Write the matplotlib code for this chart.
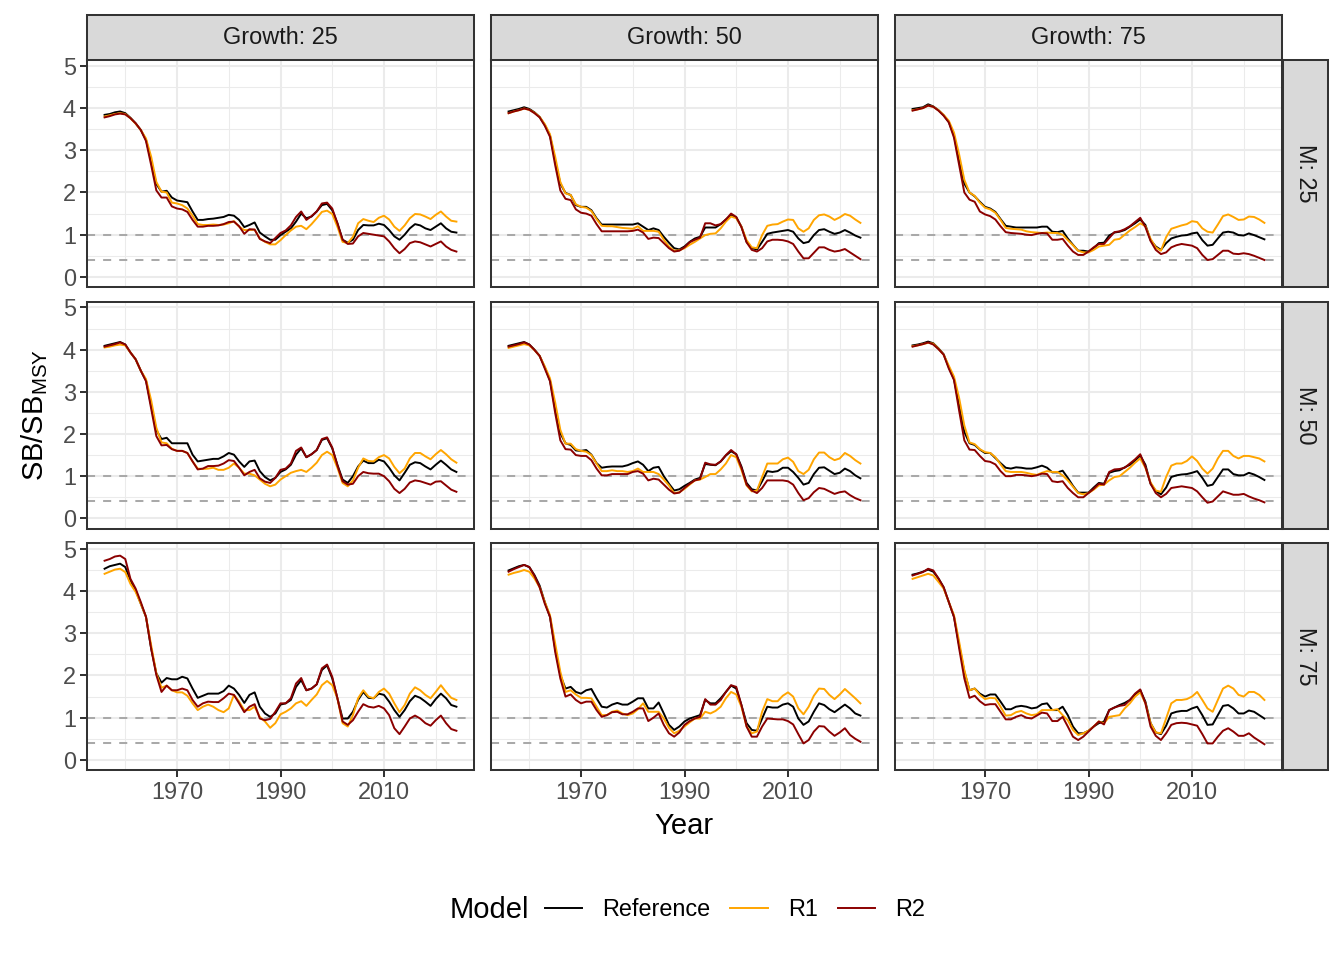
import numpy as np
import matplotlib
matplotlib.use('Agg')
import matplotlib.pyplot as plt
from matplotlib.ticker import MultipleLocator, FixedLocator

plt.rcParams['font.family'] = ['Liberation Sans', 'DejaVu Sans']
plt.rcParams['mathtext.fontset'] = 'custom'
plt.rcParams['mathtext.rm'] = 'Liberation Sans'
plt.rcParams['mathtext.it'] = 'Liberation Sans:italic'

years = list(range(1956, 2025))
growth_levels = [25, 50, 75]
m_levels = [25, 50, 75]
models = ['Reference', 'R1', 'R2']
model_colors = {'Reference': 'black', 'R1': 'orange', 'R2': '#8B0000'}
ref_points = [1, 0.4]

# ---- Growth 25 / M 25
ref_g25_m25 = [3.84, 3.86, 3.90, 3.92, 3.88, 3.77, 3.64, 3.48, 3.25, 2.75,
               2.20, 2.02, 2.04, 1.88, 1.81, 1.79, 1.77, 1.55, 1.35, 1.35,
               1.37, 1.38, 1.40, 1.42, 1.47, 1.45, 1.35, 1.18, 1.23, 1.29,
               1.05, 0.96, 0.88, 0.88, 0.99, 1.07, 1.15, 1.31, 1.50, 1.39,
               1.43, 1.55, 1.70, 1.73, 1.58, 1.27, 0.88, 0.81, 0.88, 1.11,
               1.23, 1.22, 1.22, 1.26, 1.23, 1.11, 0.96, 0.88, 1.00, 1.15,
               1.25, 1.22, 1.15, 1.11, 1.19, 1.27, 1.15, 1.07, 1.05]
r1_g25_m25 = [3.80, 3.83, 3.86, 3.88, 3.86, 3.76, 3.63, 3.48, 3.28, 2.85,
              2.25, 2.02, 2.00, 1.76, 1.74, 1.70, 1.62, 1.45, 1.25, 1.23,
              1.23, 1.24, 1.23, 1.24, 1.27, 1.32, 1.19, 1.11, 1.11, 1.12,
              0.91, 0.83, 0.77, 0.77, 0.87, 0.99, 1.10, 1.19, 1.21, 1.13,
              1.25, 1.39, 1.54, 1.57, 1.49, 1.19, 0.83, 0.80, 0.95, 1.27,
              1.37, 1.33, 1.30, 1.40, 1.45, 1.36, 1.19, 1.09, 1.22, 1.39,
              1.49, 1.48, 1.43, 1.37, 1.47, 1.55, 1.43, 1.33, 1.31]
r2_g25_m25 = [3.78, 3.81, 3.85, 3.87, 3.85, 3.76, 3.64, 3.48, 3.22, 2.65,
              2.05, 1.88, 1.88, 1.67, 1.62, 1.60, 1.54, 1.35, 1.19, 1.19,
              1.21, 1.21, 1.22, 1.25, 1.30, 1.31, 1.20, 1.02, 1.13, 1.12,
              0.90, 0.84, 0.80, 0.92, 1.04, 1.10, 1.22, 1.42, 1.55, 1.35,
              1.44, 1.55, 1.74, 1.76, 1.62, 1.27, 0.88, 0.78, 0.79, 0.96,
              1.04, 1.02, 1.00, 0.98, 0.96, 0.84, 0.68, 0.56, 0.66, 0.80,
              0.84, 0.82, 0.77, 0.72, 0.78, 0.84, 0.72, 0.64, 0.60]

# ---- Growth 50 / M 25
ref_g50_m25 = [3.92, 3.95, 3.98, 4.02, 3.98, 3.90, 3.79, 3.60, 3.35, 2.76,
               2.21, 1.99, 1.94, 1.70, 1.66, 1.66, 1.58, 1.39, 1.24, 1.24,
               1.24, 1.24, 1.24, 1.24, 1.24, 1.27, 1.19, 1.11, 1.15, 1.11,
               0.95, 0.81, 0.68, 0.65, 0.72, 0.83, 0.91, 0.95, 1.17, 1.17,
               1.17, 1.25, 1.36, 1.46, 1.41, 1.19, 0.83, 0.68, 0.65, 0.83,
               1.02, 1.05, 1.07, 1.09, 1.11, 1.07, 0.91, 0.80, 0.83, 0.99,
               1.11, 1.13, 1.07, 1.02, 1.05, 1.11, 1.05, 0.98, 0.93]
r1_g50_m25 = [3.88, 3.92, 3.95, 3.99, 3.96, 3.89, 3.79, 3.62, 3.38, 2.85,
              2.25, 1.98, 1.94, 1.72, 1.66, 1.64, 1.56, 1.37, 1.21, 1.20,
              1.20, 1.18, 1.16, 1.15, 1.14, 1.20, 1.09, 1.09, 1.09, 1.07,
              0.88, 0.72, 0.62, 0.63, 0.68, 0.76, 0.83, 0.91, 0.99, 1.02,
              1.03, 1.15, 1.31, 1.43, 1.39, 1.19, 0.87, 0.70, 0.68, 0.99,
              1.21, 1.24, 1.25, 1.31, 1.36, 1.35, 1.15, 1.07, 1.15, 1.35,
              1.46, 1.48, 1.43, 1.35, 1.41, 1.49, 1.45, 1.36, 1.28]
r2_g50_m25 = [3.88, 3.92, 3.95, 3.99, 3.96, 3.88, 3.78, 3.58, 3.32, 2.65,
              2.05, 1.85, 1.82, 1.60, 1.52, 1.50, 1.45, 1.25, 1.08, 1.08,
              1.08, 1.08, 1.08, 1.08, 1.09, 1.12, 1.05, 0.90, 0.93, 0.92,
              0.80, 0.68, 0.60, 0.62, 0.70, 0.82, 0.88, 0.93, 1.27, 1.27,
              1.22, 1.25, 1.36, 1.50, 1.42, 1.18, 0.82, 0.64, 0.60, 0.68,
              0.84, 0.88, 0.88, 0.87, 0.84, 0.78, 0.60, 0.44, 0.44, 0.57,
              0.70, 0.70, 0.64, 0.60, 0.62, 0.66, 0.58, 0.50, 0.42]

# ---- Growth 75 / M 25
ref_g75_m25 = [3.98, 4.00, 4.02, 4.09, 4.04, 3.95, 3.83, 3.67, 3.35, 2.76,
               2.21, 2.00, 1.91, 1.78, 1.66, 1.62, 1.54, 1.37, 1.21, 1.19,
               1.17, 1.17, 1.17, 1.17, 1.17, 1.19, 1.19, 1.07, 1.06, 1.09,
               0.91, 0.76, 0.62, 0.62, 0.60, 0.68, 0.80, 0.81, 0.98, 1.05,
               1.07, 1.11, 1.19, 1.27, 1.36, 1.23, 0.87, 0.72, 0.64, 0.80,
               0.91, 0.95, 0.98, 0.99, 1.03, 1.05, 0.87, 0.74, 0.76, 0.91,
               1.05, 1.07, 1.05, 0.99, 0.98, 1.03, 0.99, 0.94, 0.89]
r1_g75_m25 = [3.95, 3.97, 4.00, 4.06, 4.03, 3.95, 3.84, 3.70, 3.42, 2.90,
              2.30, 2.00, 1.92, 1.76, 1.64, 1.60, 1.52, 1.35, 1.16, 1.14,
              1.13, 1.12, 1.08, 1.06, 1.05, 1.04, 1.05, 1.04, 1.04, 1.00,
              0.87, 0.75, 0.62, 0.58, 0.58, 0.64, 0.72, 0.74, 0.76, 0.88,
              0.90, 1.00, 1.10, 1.18, 1.27, 1.20, 0.90, 0.70, 0.62, 0.94,
              1.14, 1.18, 1.22, 1.25, 1.32, 1.30, 1.15, 1.07, 1.05, 1.24,
              1.44, 1.48, 1.42, 1.35, 1.36, 1.43, 1.42, 1.36, 1.28]
r2_g75_m25 = [3.94, 3.97, 4.00, 4.06, 4.03, 3.94, 3.82, 3.66, 3.30, 2.65,
              2.00, 1.83, 1.78, 1.55, 1.48, 1.44, 1.36, 1.20, 1.06, 1.04,
              1.03, 1.02, 1.00, 0.99, 1.02, 1.04, 1.03, 0.88, 0.88, 0.90,
              0.74, 0.60, 0.52, 0.52, 0.60, 0.70, 0.78, 0.78, 0.92, 1.06,
              1.08, 1.13, 1.20, 1.30, 1.40, 1.18, 0.85, 0.64, 0.54, 0.58,
              0.70, 0.75, 0.78, 0.76, 0.74, 0.68, 0.52, 0.40, 0.42, 0.52,
              0.62, 0.62, 0.55, 0.54, 0.56, 0.54, 0.50, 0.45, 0.40]

# ---- Growth 25 / M 50
ref_g25_m50 = [4.09, 4.12, 4.15, 4.18, 4.12, 3.93, 3.77, 3.50, 3.27, 2.68,
               2.09, 1.88, 1.91, 1.78, 1.78, 1.78, 1.78, 1.51, 1.35, 1.37,
               1.39, 1.41, 1.41, 1.47, 1.55, 1.51, 1.35, 1.22, 1.35, 1.37,
               1.12, 0.98, 0.90, 0.96, 1.10, 1.16, 1.27, 1.51, 1.66, 1.45,
               1.52, 1.62, 1.86, 1.90, 1.66, 1.27, 0.92, 0.84, 1.00, 1.23,
               1.37, 1.31, 1.31, 1.39, 1.35, 1.20, 1.02, 0.90, 1.08, 1.27,
               1.33, 1.31, 1.23, 1.16, 1.27, 1.37, 1.27, 1.16, 1.10]
r1_g25_m50 = [4.05, 4.07, 4.10, 4.12, 4.10, 3.93, 3.77, 3.50, 3.30, 2.80,
              2.15, 1.80, 1.78, 1.65, 1.60, 1.60, 1.55, 1.35, 1.18, 1.17,
              1.18, 1.20, 1.15, 1.15, 1.20, 1.30, 1.20, 1.06, 1.06, 1.02,
              0.92, 0.82, 0.76, 0.80, 0.92, 1.00, 1.08, 1.12, 1.15, 1.10,
              1.20, 1.32, 1.50, 1.58, 1.50, 1.20, 0.84, 0.76, 0.90, 1.20,
              1.42, 1.36, 1.35, 1.45, 1.50, 1.42, 1.22, 1.07, 1.18, 1.42,
              1.55, 1.55, 1.47, 1.40, 1.52, 1.62, 1.52, 1.40, 1.32]
r2_g25_m50 = [4.07, 4.10, 4.13, 4.17, 4.12, 3.93, 3.77, 3.50, 3.25, 2.60,
              1.95, 1.73, 1.74, 1.64, 1.60, 1.60, 1.55, 1.35, 1.16, 1.18,
              1.24, 1.24, 1.25, 1.30, 1.38, 1.36, 1.20, 1.02, 1.10, 1.15,
              0.95, 0.87, 0.84, 0.96, 1.15, 1.18, 1.30, 1.60, 1.68, 1.45,
              1.52, 1.62, 1.88, 1.92, 1.68, 1.25, 0.88, 0.80, 0.82, 1.00,
              1.10, 1.07, 1.06, 1.06, 1.00, 0.88, 0.70, 0.60, 0.70, 0.85,
              0.90, 0.88, 0.84, 0.80, 0.87, 0.88, 0.78, 0.68, 0.63]

# ---- Growth 50 / M 50
ref_g50_m50 = [4.09, 4.12, 4.15, 4.18, 4.12, 4.00, 3.85, 3.58, 3.27, 2.60,
               2.02, 1.78, 1.74, 1.61, 1.60, 1.62, 1.51, 1.31, 1.20, 1.22,
               1.23, 1.23, 1.23, 1.26, 1.31, 1.35, 1.27, 1.12, 1.20, 1.22,
               1.00, 0.82, 0.66, 0.69, 0.77, 0.84, 0.92, 0.96, 1.29, 1.27,
               1.26, 1.35, 1.49, 1.59, 1.52, 1.23, 0.84, 0.69, 0.66, 0.88,
               1.12, 1.10, 1.12, 1.20, 1.20, 1.10, 0.96, 0.80, 0.84, 1.05,
               1.20, 1.21, 1.13, 1.05, 1.08, 1.18, 1.12, 1.02, 0.95]
r1_g50_m50 = [4.04, 4.07, 4.10, 4.13, 4.10, 3.99, 3.85, 3.60, 3.32, 2.75,
              2.10, 1.77, 1.77, 1.64, 1.60, 1.58, 1.50, 1.30, 1.12, 1.12,
              1.14, 1.12, 1.12, 1.10, 1.12, 1.18, 1.10, 1.10, 1.10, 1.05,
              0.92, 0.78, 0.60, 0.62, 0.70, 0.80, 0.90, 0.92, 0.98, 1.05,
              1.05, 1.16, 1.30, 1.50, 1.45, 1.15, 0.78, 0.64, 0.66, 0.98,
              1.30, 1.30, 1.30, 1.40, 1.44, 1.34, 1.12, 1.05, 1.15, 1.40,
              1.56, 1.56, 1.45, 1.38, 1.42, 1.55, 1.48, 1.38, 1.30]
r2_g50_m50 = [4.07, 4.10, 4.13, 4.17, 4.12, 3.99, 3.85, 3.55, 3.25, 2.50,
              1.85, 1.64, 1.63, 1.50, 1.48, 1.48, 1.38, 1.18, 1.02, 1.02,
              1.05, 1.05, 1.05, 1.05, 1.10, 1.12, 1.06, 0.90, 0.94, 0.92,
              0.80, 0.68, 0.59, 0.61, 0.72, 0.82, 0.90, 0.93, 1.32, 1.28,
              1.27, 1.35, 1.50, 1.62, 1.52, 1.20, 0.80, 0.66, 0.60, 0.72,
              0.90, 0.90, 0.90, 0.90, 0.88, 0.80, 0.60, 0.43, 0.48, 0.62,
              0.72, 0.70, 0.64, 0.58, 0.62, 0.64, 0.55, 0.48, 0.43]

# ---- Growth 75 / M 50
ref_g75_m50 = [4.10, 4.12, 4.15, 4.19, 4.15, 4.03, 3.89, 3.58, 3.30, 2.68,
               2.05, 1.78, 1.74, 1.63, 1.55, 1.55, 1.43, 1.31, 1.20, 1.18,
               1.21, 1.20, 1.18, 1.18, 1.21, 1.25, 1.20, 1.09, 1.09, 1.13,
               0.96, 0.77, 0.61, 0.61, 0.61, 0.73, 0.84, 0.82, 1.08, 1.12,
               1.14, 1.21, 1.27, 1.37, 1.49, 1.27, 0.82, 0.65, 0.57, 0.73,
               0.98, 1.02, 1.04, 1.05, 1.08, 1.12, 0.96, 0.77, 0.80, 0.98,
               1.16, 1.16, 1.05, 1.02, 1.02, 1.08, 1.04, 0.98, 0.91]
r1_g75_m50 = [4.08, 4.10, 4.13, 4.16, 4.14, 4.02, 3.88, 3.62, 3.36, 2.85,
              2.20, 1.80, 1.76, 1.64, 1.57, 1.55, 1.45, 1.28, 1.12, 1.10,
              1.10, 1.10, 1.08, 1.05, 1.03, 1.08, 1.12, 1.10, 1.10, 1.02,
              0.90, 0.75, 0.60, 0.57, 0.60, 0.68, 0.78, 0.80, 0.90, 0.98,
              1.00, 1.10, 1.20, 1.32, 1.42, 1.20, 0.85, 0.66, 0.63, 0.98,
              1.25, 1.30, 1.30, 1.36, 1.47, 1.36, 1.18, 1.06, 1.18, 1.42,
              1.60, 1.60, 1.48, 1.42, 1.48, 1.48, 1.45, 1.42, 1.35]
r2_g75_m50 = [4.07, 4.10, 4.13, 4.17, 4.12, 4.01, 3.88, 3.55, 3.28, 2.55,
              1.85, 1.63, 1.62, 1.48, 1.36, 1.34, 1.28, 1.12, 1.00, 1.00,
              1.03, 1.03, 1.02, 1.00, 1.02, 1.06, 1.05, 0.88, 0.86, 0.88,
              0.72, 0.60, 0.50, 0.50, 0.60, 0.70, 0.82, 0.80, 1.10, 1.16,
              1.17, 1.20, 1.30, 1.40, 1.52, 1.22, 0.82, 0.60, 0.50, 0.58,
              0.72, 0.74, 0.76, 0.74, 0.72, 0.64, 0.50, 0.37, 0.40, 0.52,
              0.64, 0.60, 0.56, 0.56, 0.58, 0.52, 0.47, 0.43, 0.38]

# ---- Growth 25 / M 75
ref_g25_m75 = [4.53, 4.59, 4.62, 4.65, 4.57, 4.25, 4.02, 3.70, 3.39, 2.64,
               2.05, 1.83, 1.94, 1.91, 1.91, 1.97, 1.93, 1.69, 1.47, 1.52,
               1.57, 1.57, 1.57, 1.63, 1.76, 1.69, 1.54, 1.35, 1.54, 1.60,
               1.26, 1.10, 1.02, 1.10, 1.31, 1.34, 1.42, 1.73, 1.89, 1.65,
               1.69, 1.79, 2.13, 2.24, 1.93, 1.46, 0.98, 0.98, 1.14, 1.42,
               1.61, 1.47, 1.46, 1.57, 1.54, 1.38, 1.18, 1.02, 1.18, 1.39,
               1.52, 1.47, 1.38, 1.28, 1.44, 1.57, 1.46, 1.30, 1.26]
r1_g25_m75 = [4.41, 4.46, 4.51, 4.53, 4.45, 4.17, 3.98, 3.70, 3.39, 2.72,
              2.05, 1.71, 1.76, 1.65, 1.60, 1.60, 1.52, 1.34, 1.18, 1.26,
              1.31, 1.26, 1.18, 1.13, 1.22, 1.54, 1.38, 1.18, 1.18, 1.26,
              1.02, 0.91, 0.76, 0.87, 1.08, 1.14, 1.22, 1.34, 1.39, 1.28,
              1.42, 1.55, 1.77, 1.87, 1.77, 1.46, 0.87, 0.79, 1.06, 1.46,
              1.65, 1.50, 1.46, 1.61, 1.69, 1.57, 1.34, 1.13, 1.30, 1.57,
              1.72, 1.65, 1.54, 1.46, 1.61, 1.77, 1.61, 1.47, 1.42]
r2_g25_m75 = [4.72, 4.76, 4.82, 4.84, 4.76, 4.29, 4.06, 3.74, 3.39, 2.64,
              2.01, 1.61, 1.76, 1.65, 1.65, 1.69, 1.65, 1.42, 1.26, 1.34,
              1.38, 1.37, 1.37, 1.46, 1.57, 1.54, 1.34, 1.13, 1.26, 1.32,
              0.98, 0.94, 0.97, 1.14, 1.34, 1.34, 1.46, 1.81, 1.94, 1.65,
              1.69, 1.79, 2.17, 2.26, 1.97, 1.46, 0.91, 0.83, 0.94, 1.14,
              1.32, 1.26, 1.24, 1.28, 1.22, 1.06, 0.75, 0.61, 0.79, 0.98,
              1.05, 0.98, 0.87, 0.81, 0.94, 1.05, 0.87, 0.73, 0.69]

# ---- Growth 50 / M 75
ref_g50_m75 = [4.49, 4.54, 4.59, 4.62, 4.57, 4.38, 4.13, 3.74, 3.39, 2.64,
               2.01, 1.69, 1.73, 1.61, 1.57, 1.65, 1.68, 1.46, 1.26, 1.24,
               1.31, 1.35, 1.31, 1.31, 1.38, 1.46, 1.46, 1.22, 1.22, 1.36,
               1.10, 0.83, 0.71, 0.79, 0.91, 0.98, 1.02, 1.06, 1.42, 1.34,
               1.34, 1.46, 1.61, 1.76, 1.69, 1.30, 0.87, 0.71, 0.69, 0.98,
               1.26, 1.24, 1.24, 1.31, 1.34, 1.26, 0.98, 0.83, 0.91, 1.14,
               1.34, 1.30, 1.20, 1.13, 1.22, 1.31, 1.22, 1.10, 1.05]
r1_g50_m75 = [4.39, 4.43, 4.46, 4.50, 4.46, 4.30, 4.09, 3.74, 3.43, 2.76,
              2.09, 1.61, 1.65, 1.55, 1.47, 1.47, 1.46, 1.26, 1.06, 1.06,
              1.14, 1.17, 1.10, 1.06, 1.10, 1.20, 1.34, 1.14, 1.14, 1.14,
              0.98, 0.76, 0.63, 0.69, 0.79, 0.89, 0.98, 0.98, 1.14, 1.10,
              1.16, 1.26, 1.46, 1.61, 1.55, 1.26, 0.79, 0.63, 0.67, 1.14,
              1.44, 1.39, 1.39, 1.52, 1.60, 1.50, 1.22, 1.08, 1.26, 1.52,
              1.69, 1.68, 1.54, 1.44, 1.55, 1.68, 1.57, 1.46, 1.34]
r2_g50_m75 = [4.46, 4.52, 4.57, 4.62, 4.57, 4.36, 4.09, 3.70, 3.39, 2.56,
              1.93, 1.50, 1.55, 1.42, 1.34, 1.38, 1.38, 1.18, 1.02, 1.06,
              1.13, 1.14, 1.08, 1.08, 1.14, 1.22, 1.22, 0.92, 1.00, 1.10,
              0.83, 0.63, 0.55, 0.65, 0.83, 0.92, 0.98, 1.02, 1.44, 1.31,
              1.31, 1.42, 1.61, 1.77, 1.73, 1.30, 0.79, 0.55, 0.55, 0.79,
              0.98, 0.97, 0.96, 0.96, 0.92, 0.84, 0.61, 0.39, 0.47, 0.67,
              0.80, 0.79, 0.67, 0.57, 0.65, 0.75, 0.59, 0.50, 0.43]

# ---- Growth 75 / M 75
ref_g75_m75 = [4.39, 4.42, 4.46, 4.51, 4.46, 4.30, 4.09, 3.74, 3.39, 2.72,
               2.09, 1.65, 1.69, 1.57, 1.50, 1.55, 1.55, 1.38, 1.20, 1.20,
               1.26, 1.28, 1.26, 1.22, 1.24, 1.32, 1.34, 1.18, 1.18, 1.26,
               1.06, 0.79, 0.63, 0.63, 0.69, 0.79, 0.87, 0.91, 1.18, 1.24,
               1.30, 1.35, 1.42, 1.55, 1.65, 1.38, 0.87, 0.65, 0.61, 0.81,
               1.10, 1.14, 1.16, 1.16, 1.22, 1.26, 1.06, 0.83, 0.84, 1.06,
               1.28, 1.30, 1.22, 1.10, 1.10, 1.17, 1.14, 1.06, 0.98]
r1_g75_m75 = [4.29, 4.33, 4.37, 4.41, 4.37, 4.22, 4.06, 3.74, 3.43, 2.80,
              2.13, 1.65, 1.69, 1.54, 1.44, 1.47, 1.46, 1.26, 1.05, 1.06,
              1.13, 1.16, 1.10, 1.06, 1.08, 1.18, 1.18, 1.18, 1.20, 1.06,
              0.94, 0.71, 0.59, 0.63, 0.69, 0.79, 0.91, 0.87, 1.02, 1.04,
              1.06, 1.22, 1.34, 1.50, 1.60, 1.34, 0.87, 0.65, 0.63, 0.98,
              1.34, 1.42, 1.42, 1.44, 1.50, 1.61, 1.42, 1.22, 1.14, 1.42,
              1.69, 1.76, 1.69, 1.54, 1.50, 1.61, 1.61, 1.54, 1.42]
r2_g75_m75 = [4.37, 4.41, 4.45, 4.53, 4.49, 4.30, 4.09, 3.74, 3.39, 2.64,
              1.93, 1.47, 1.52, 1.39, 1.30, 1.32, 1.32, 1.14, 0.96, 0.96,
              1.02, 1.06, 1.00, 0.98, 1.05, 1.12, 1.10, 0.92, 0.92, 1.02,
              0.79, 0.55, 0.47, 0.55, 0.67, 0.79, 0.91, 0.84, 1.18, 1.24,
              1.28, 1.30, 1.42, 1.57, 1.67, 1.34, 0.79, 0.57, 0.47, 0.63,
              0.83, 0.87, 0.88, 0.87, 0.84, 0.81, 0.61, 0.39, 0.39, 0.55,
              0.69, 0.75, 0.67, 0.57, 0.57, 0.63, 0.53, 0.45, 0.37]

series = {
    (25, 25): (ref_g25_m25, r1_g25_m25, r2_g25_m25),
    (50, 25): (ref_g50_m25, r1_g50_m25, r2_g50_m25),
    (75, 25): (ref_g75_m25, r1_g75_m25, r2_g75_m25),
    (25, 50): (ref_g25_m50, r1_g25_m50, r2_g25_m50),
    (50, 50): (ref_g50_m50, r1_g50_m50, r2_g50_m50),
    (75, 50): (ref_g75_m50, r1_g75_m50, r2_g75_m50),
    (25, 75): (ref_g25_m75, r1_g25_m75, r2_g25_m75),
    (50, 75): (ref_g50_m75, r1_g50_m75, r2_g50_m75),
    (75, 75): (ref_g75_m75, r1_g75_m75, r2_g75_m75),
}

W, H = 1344, 960
fig = plt.figure(figsize=(W / 100, H / 100), dpi=100)

col_left = [87, 491, 895]
row_top = [60, 301.5, 543]
pw, ph = 387, 227
grey20 = '#333333'
tick_col = '#4D4D4D'
fs_small = 16.9
fs_big = 21

handles = []
for i, m in enumerate(m_levels):
    for j, g in enumerate(growth_levels):
        ax = fig.add_axes([col_left[j] / W, 1 - (row_top[i] + ph) / H, pw / W, ph / H])
        ax.set_facecolor('white')
        ax.set_xlim(1952.6, 2027.4)
        ax.set_ylim(-0.24, 5.14)
        ax.xaxis.set_major_locator(FixedLocator([1970, 1990, 2010]))
        ax.xaxis.set_minor_locator(FixedLocator([1960, 1980, 2000, 2020]))
        ax.yaxis.set_major_locator(MultipleLocator(1))
        ax.yaxis.set_minor_locator(MultipleLocator(0.5))
        ax.grid(which='major', color='#EBEBEB', lw=1.45, zorder=0)
        ax.grid(which='minor', color='#EBEBEB', lw=0.75, zorder=0)
        ax.set_axisbelow(True)
        for s in ax.spines.values():
            s.set_color(grey20)
            s.set_linewidth(1.45)
        ax.tick_params(which='major', length=5, width=1.45, color=grey20,
                       labelsize=fs_small, labelcolor=tick_col, pad=3)
        ax.tick_params(which='minor', length=0)
        # only outer panels carry axis ticks, like facet_grid
        if j != 0:
            ax.tick_params(axis='y', which='major', length=0, labelleft=False)
        if i != 2:
            ax.tick_params(axis='x', which='major', length=0, labelbottom=False)

        for yv in ref_points:
            ax.axhline(yv, color='#A9A9A9', lw=1.45, ls=(0, (4, 4)), zorder=1)

        for name, vals in zip(models, series[(g, m)]):
            ln, = ax.plot(years, vals, color=model_colors[name], lw=1.4, label=name, zorder=2)
            if i == 0 and j == 0:
                handles.append(ln)

        # top strips
        if i == 0:
            sa = fig.add_axes([col_left[j] / W, 1 - 59.5 / H, pw / W, 44.5 / H])
            sa.set_facecolor('#D9D9D9')
            sa.set_xticks([]); sa.set_yticks([])
            for s in sa.spines.values():
                s.set_color(grey20); s.set_linewidth(1.45)
            sa.text(0.5, 0.5, f'Growth: {g}', ha='center', va='center',
                    fontsize=fs_small, color='#1A1A1A', transform=sa.transAxes)
        # right strips
        if j == 2:
            sa = fig.add_axes([1283 / W, 1 - (row_top[i] + ph) / H, 45 / W, ph / H])
            sa.set_facecolor('#D9D9D9')
            sa.set_xticks([]); sa.set_yticks([])
            for s in sa.spines.values():
                s.set_color(grey20); s.set_linewidth(1.45)
            sa.text(0.5, 0.5, f'M: {m}', ha='center', va='center', rotation=-90,
                    fontsize=fs_small, color='#1A1A1A', transform=sa.transAxes)

fig.text(684 / W, 1 - 826 / H, 'Year', ha='center', va='center', fontsize=fs_big)
fig.text(35 / W, 1 - 415 / H, r'$\mathrm{SB/SB_{MSY}}$', ha='center', va='center',
         rotation=90, fontsize=fs_big)

fig.text(450 / W, 1 - 910 / H, 'Model', ha='left', va='center', fontsize=fs_big)
fig.legend(handles=handles, labels=models, loc='center', ncol=3, frameon=False,
           bbox_to_anchor=(735 / W, 1 - 910 / H), fontsize=fs_small,
           handlelength=1.6, handletextpad=0.85, columnspacing=0.85)

fig.savefig('out.png', dpi=100)
